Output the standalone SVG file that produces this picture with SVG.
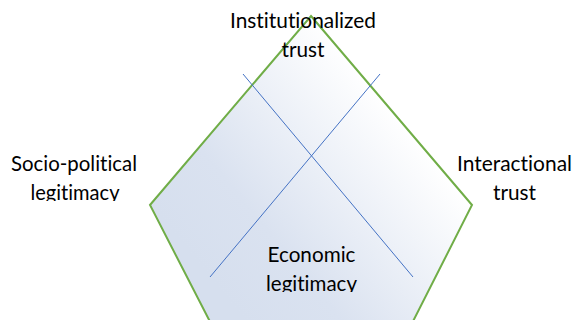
<svg xmlns="http://www.w3.org/2000/svg" width="575" height="320" viewBox="0 0 575 320">
  <style>
    .lbl { font-family: Lato, "Open Sans", "Liberation Sans", sans-serif; font-size: 21.5px; fill: #000; text-anchor: middle; font-variant-ligatures: none; }
    .frame { fill: url(#shade); stroke: #70AD47; stroke-width: 2; stroke-linejoin: miter; }
    .cross { stroke: #4472C4; stroke-width: 1; fill: none; }
  </style>
  <defs>
    <linearGradient id="shade" gradientUnits="userSpaceOnUse" x1="208" y1="275" x2="400" y2="117">
      <stop offset="0" stop-color="#D6DFEE"/>
      <stop offset="0.3" stop-color="#DAE2F0"/>
      <stop offset="1" stop-color="#FFFFFF"/>
    </linearGradient>
    <clipPath id="clipLeft"><rect x="0" y="140" width="150" height="61"/></clipPath>
    <clipPath id="clipBottom"><rect x="240" y="230" width="150" height="62"/></clipPath>
  </defs>

  <!-- pentagon outline -->
  <g id="pentagon">
    <polygon class="frame" points="311,16 472,205 401,345 222,345 150,205"/>
  </g>

  <!-- crossing connectors -->
  <g id="connectors">
    <line class="cross" x1="243" y1="74" x2="413" y2="277"/>
    <line class="cross" x1="380" y1="74" x2="210" y2="277"/>
  </g>

  <g id="node-institutional">
    <text class="lbl" x="303" y="28" textLength="146" lengthAdjust="spacingAndGlyphs">Institutionalized</text>
    <text class="lbl" x="303" y="57" textLength="43" lengthAdjust="spacingAndGlyphs">trust</text>
  </g>

  <g id="node-sociopolitical" clip-path="url(#clipLeft)">
    <text class="lbl" x="74" y="171" textLength="126" lengthAdjust="spacingAndGlyphs">Socio-political</text>
    <text class="lbl" x="75" y="200" textLength="89" lengthAdjust="spacingAndGlyphs">legitimacy</text>
  </g>

  <g id="node-interactional">
    <text class="lbl" x="514.5" y="171" textLength="115" lengthAdjust="spacingAndGlyphs">Interactional</text>
    <text class="lbl" x="514.5" y="200" textLength="43" lengthAdjust="spacingAndGlyphs">trust</text>
  </g>

  <g id="node-economic" clip-path="url(#clipBottom)">
    <text class="lbl" x="311.5" y="262" textLength="88" lengthAdjust="spacingAndGlyphs">Economic</text>
    <text class="lbl" x="311.5" y="291" textLength="91" lengthAdjust="spacingAndGlyphs">legitimacy</text>
  </g>
</svg>
